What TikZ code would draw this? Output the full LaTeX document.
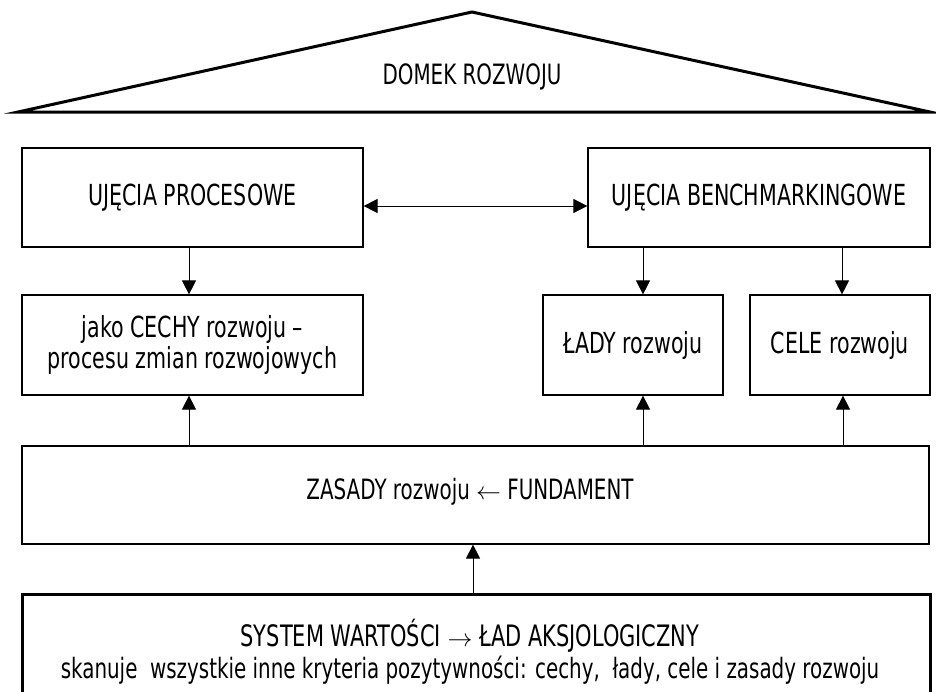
\documentclass[tikz,border=0pt]{standalone}
\usepackage{fontspec}
\setmainfont[FakeStretch=0.71]{DejaVu Sans}
\usetikzlibrary{arrows.meta}
\begin{document}
\begin{tikzpicture}[x=1pt,y=-1pt,
  box/.style={draw=black, line width=1.2pt, inner sep=0pt, align=center, font=\fontsize{29}{31}\selectfont},
  bigbox/.style={draw=black, line width=3pt, inner sep=0pt},
  txt/.style={inner sep=0pt, align=center, font=\fontsize{28}{32}\selectfont},
  arr/.style={-{Triangle[length=14pt,width=14pt]}, line width=1pt},
  darr/.style={{Triangle[length=14pt,width=14pt]}-{Triangle[length=14pt,width=14pt]}, line width=1pt}]
\clip (0,0) rectangle (936,691);
\fill[white] (0,0) rectangle (936,691);
% roof
\coordinate (rl) at (18,112);
\coordinate (ra) at (472,12);
\coordinate (rr) at (930,112);
\draw[line width=3pt, line join=miter] (rl) -- (ra) -- (rr) -- cycle;
\node[txt] (roof) at (472,77) {DOMEK ROZWOJU};
% boxes
\node[box, minimum width=341pt, minimum height=99pt] (up) at (192.5,197.5) {UJĘCIA PROCESOWE};
\node[box, minimum width=342pt, minimum height=99pt] (ub) at (759,197.5) {UJĘCIA BENCHMARKINGOWE};
\node[box, minimum width=341pt, minimum height=100pt] (cechy) at (192.5,345) {jako CECHY rozwoju –\\procesu zmian rozwojowych};
\node[box, minimum width=180pt, minimum height=100pt] (lady) at (633,345) {ŁADY rozwoju};
\node[box, minimum width=180pt, minimum height=100pt] (cele) at (840,345) {CELE rozwoju};
\node[box, minimum width=907pt, minimum height=98pt] (zasady) at (475.5,495) {};
\node[txt] (zasadytxt) at (470,492) {ZASADY rozwoju $\leftarrow$ FUNDAMENT};
\node[bigbox, minimum width=908pt, minimum height=140pt, anchor=north] (sys) at (476,593) {};
\node[txt] (systxt) at (470,652) {{\fontsize{29.5}{32}\selectfont SYSTEM WARTOŚCI $\rightarrow$\ ŁAD AKSJOLOGICZNY}\\skanuje\ \ wszystkie inne kryteria pozytywności: cechy,\ \ łady, cele i zasady rozwoju};
% connectors
\draw[darr] ([yshift=-8.5pt]up.east) -- ([yshift=-8.5pt]ub.west);
\draw[arr] ([xshift=-3.5pt]up.south) -- ([xshift=-3.5pt]cechy.north);
\draw[arr] ([xshift=10pt]lady.north |- ub.south) -- ([xshift=10pt]lady.north);
\draw[arr] ([xshift=2pt]cele.north |- ub.south) -- ([xshift=2pt]cele.north);
\draw[arr] ([xshift=-3.5pt]cechy.south |- zasady.north) -- ([xshift=-3.5pt]cechy.south);
\draw[arr] ([xshift=10pt]lady.south |- zasady.north) -- ([xshift=10pt]lady.south);
\draw[arr] ([xshift=3pt]cele.south |- zasady.north) -- ([xshift=3pt]cele.south);
\draw[arr] ([xshift=-2.5pt]zasady.south |- sys.north) -- ([xshift=-2.5pt]zasady.south);
\end{tikzpicture}
\end{document}
